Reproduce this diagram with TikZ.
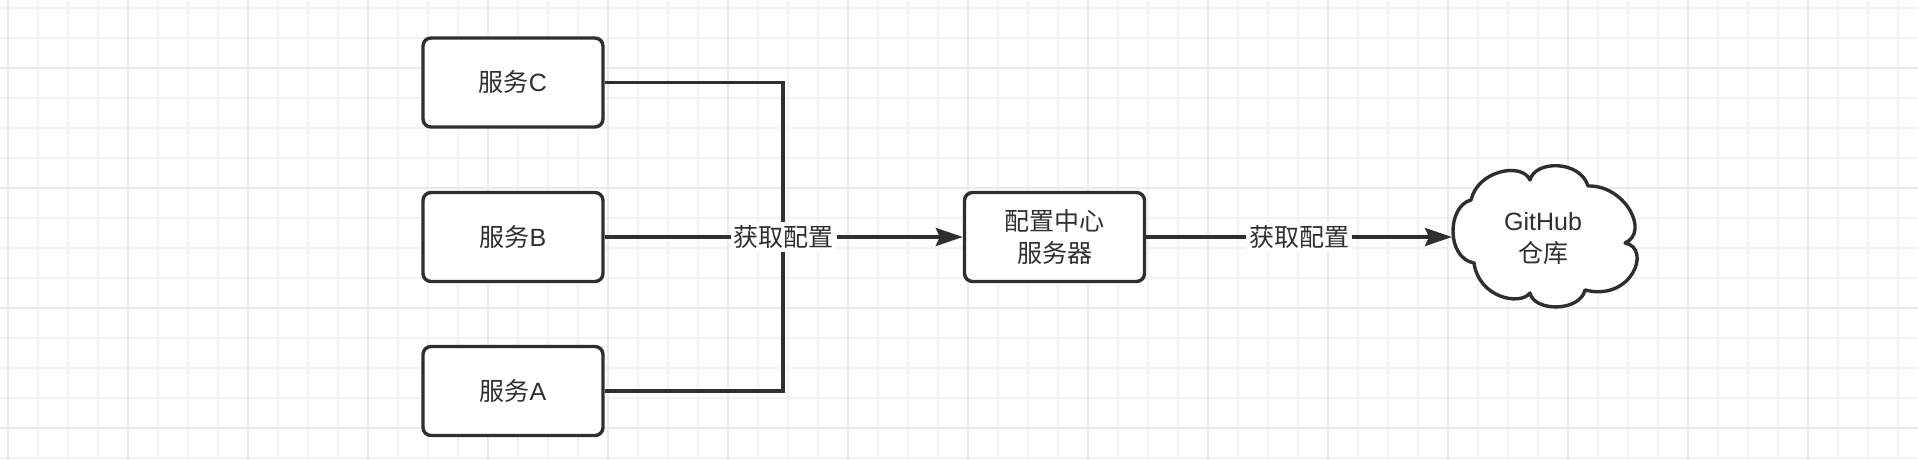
\documentclass[tikz,border=0pt]{standalone}
\usepackage{fontspec}
\setmainfont{Liberation Sans}
\newfontfamily\cjk{Noto Sans CJK SC}
\usetikzlibrary{arrows.meta}
\definecolor{ink}{HTML}{2F2F2F}
\definecolor{gridminor}{HTML}{F2F2F2}
\definecolor{gridmajor}{HTML}{EAEAEA}
\begin{document}
\begin{tikzpicture}[x=1pt,y=-1pt,
  txt/.style={text=ink, font=\fontsize{25}{32}\selectfont, align=center},
  svc/.style={txt, draw=ink, line width=3.4pt, rounded corners=8pt, fill=white,
    minimum width=180pt, minimum height=89pt, inner sep=0pt},
  conn/.style={draw=ink, line width=3.4pt},
  arr/.style={conn, -{Stealth[length=27pt,width=18pt,inset=4pt]}},
  lbl/.style={txt, fill=white, inner sep=3pt},
  cloudline/.style={draw=ink, line width=3.4pt, fill=white, line join=round},
  gminor/.style={draw=gridminor, line width=1.3pt},
  gmajor/.style={draw=gridmajor, line width=1.4pt}
]
\useasboundingbox (0,0) rectangle (1918,460);
\fill[white] (0,0) rectangle (1918,460);
% grid
\foreach \x in {8,38,...,1898} \draw[gminor] (\x,0) -- (\x,460);
\foreach \y in {8,38,...,458} \draw[gminor] (0,\y) -- (1918,\y);
\foreach \x in {8,128,...,1808} \draw[gmajor] (\x,0) -- (\x,460);
\foreach \y in {68,188,308,428} \draw[gmajor] (0,\y) -- (1918,\y);

% service boxes
\node[svc] (C) at (513,82.5) {{\cjk 服务}C};
\node[svc] (B) at (513,237) {{\cjk 服务}B};
\node[svc] (A) at (513,391) {{\cjk 服务}A};
\node[svc] (mid) at (1054.5,237) {{\cjk 配置中心}\\{\cjk 服务器}};

% cloud
\draw[cloudline] (1471,200)
  .. controls (1478,170) and (1522,162) .. (1530,180)
  .. controls (1535,160) and (1580,160) .. (1588,186)
  .. controls (1625,185) and (1650,232) .. (1625,243)
  .. controls (1652,248) and (1632,302) .. (1585,290)
  .. controls (1580,312) and (1534,312) .. (1530,293)
  .. controls (1520,306) and (1479,298) .. (1474,263)
  .. controls (1446,258) and (1447,206) .. cycle;
\node[txt, inner sep=0pt] (repo) at (1543,239) {GitHub\\{\cjk 仓库}};

% connectors
\coordinate (j) at (783,237);
\coordinate (repoin) at (1452,237);
\draw[conn] (C.east) -| (j);
\draw[conn] (A.east) -| (j);
\draw[arr] (B.east) -- node[lbl] {\cjk 获取配置} (mid.west);
\draw[arr] (mid.east) -- node[lbl] {\cjk 获取配置} (repoin);
\end{tikzpicture}
\end{document}
